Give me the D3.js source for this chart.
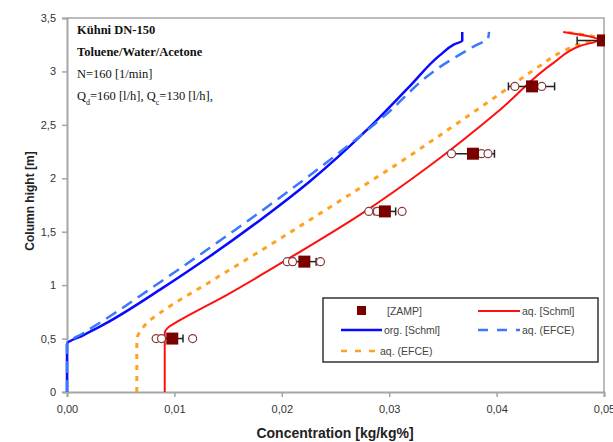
<!DOCTYPE html>
<html>
<head>
<meta charset="utf-8">
<script src="https://cdn.jsdelivr.net/npm/d3@7"></script>
<style>
  body { margin: 0; background: #fff; }
  svg { display: block; }
</style>
</head>
<body>
<svg id="chart" width="613" height="442"></svg>
<script>
// Column profiles: concentration (kg/kg%) vs column height (m)
const orgSchmC  = [0, 0, 0.0015, 0.0034, 0.0087, 0.0133, 0.018, 0.0226, 0.0279, 0.0319, 0.0347, 0.036, 0.0368, 0.0368];
const orgSchmH  = [0, 0.45, 0.53, 0.63, 0.96, 1.27, 1.61, 1.97, 2.45, 2.86, 3.15, 3.25, 3.29, 3.37];
const aqEfceBlueC = [0, 0, 0.0015, 0.0034, 0.0087, 0.0133, 0.0186, 0.0229, 0.0266, 0.0294, 0.0347, 0.0378, 0.0392, 0.0393];
const aqEfceBlueH = [0, 0.45, 0.55, 0.67, 1.03, 1.35, 1.73, 2.05, 2.34, 2.57, 3.04, 3.23, 3.31, 3.37];
const aqEfceC   = [0.0065, 0.0065, 0.0069, 0.0076, 0.0088, 0.0133, 0.018, 0.0226, 0.0273, 0.031, 0.0357, 0.0403, 0.044, 0.0464, 0.0482, 0.0497, 0.0462];
const aqEfceH   = [0, 0.49, 0.58, 0.66, 0.75, 1.03, 1.32, 1.61, 1.91, 2.15, 2.47, 2.79, 3.05, 3.2, 3.27, 3.30, 3.37];
const aqSchmC   = [0.0091, 0.0091, 0.0095, 0.0103, 0.0149, 0.0205, 0.0273, 0.0338, 0.0403, 0.0453, 0.0478, 0.0495, 0.0462];
const aqSchmH   = [0, 0.55, 0.61, 0.66, 0.91, 1.24, 1.66, 2.12, 2.64, 3.08, 3.24, 3.295, 3.37];

// ZAMP measurements (mean, error bar range, single samples)
const zampH    = [0.5, 1.22, 1.69, 2.23, 2.86, 3.29];
const zampC    = [0.0098, 0.0221, 0.0296, 0.0378, 0.0433, 0.0499];
const zampLo   = [0.0088, 0.0212, 0.0286, 0.0358, 0.0411, 0.0475];
const zampHi   = [0.0108, 0.0232, 0.0306, 0.0398, 0.0454, 0.0523];
const zampSamples = [
  [0.0083, 0.0088, 0.0117],
  [0.0205, 0.0210, 0.0236],
  [0.0281, 0.0289, 0.0312],
  [0.0358, 0.0386, 0.0392],
  [0.0417, 0.0442],
  []
];

const xTicks = [0, 0.01, 0.02, 0.03, 0.04, 0.05];
const yTicks = [0, 0.5, 1, 1.5, 2, 2.5, 3, 3.5];
const infoLines = ["Kühni DN-150", "Toluene/Water/Acetone", "N=160 [1/min]"];

const svg = d3.select("#chart");
const x = d3.scaleLinear().domain([0, 0.05]).range([67, 604]);
const y = d3.scaleLinear().domain([0, 3.5]).range([392, 18]);
const comma = v => v.toString().replace(".", ",");
const axisGray = "#a6a6a6";
const sans = "Liberation Sans, Arial, sans-serif";

// plot frame (top and right)
svg.append("path")
  .attr("d", `M${x(0)},${y(3.5)}H${x(0.05)}V${y(0)}`)
  .attr("fill", "none").attr("stroke", axisGray).attr("stroke-width", 1.5);

// axes
const xAxis = svg.append("g").attr("transform", `translate(0,${y(0)})`)
  .call(d3.axisBottom(x).tickValues(xTicks).tickSize(5).tickPadding(8)
    .tickFormat(d => d3.format(".2f")(d).replace(".", ",")));
const yAxis = svg.append("g").attr("transform", `translate(${x(0)},0)`)
  .call(d3.axisLeft(y).tickValues(yTicks).tickSize(5).tickPadding(6).tickFormat(comma));
[xAxis, yAxis].forEach(a => {
  a.select(".domain").attr("stroke", axisGray).attr("stroke-width", 2);
  a.selectAll(".tick line").attr("stroke", axisGray).attr("stroke-width", 1.5);
  a.selectAll(".tick text").attr("fill", "#333").style("font-family", sans).style("font-size", "11px");
});

// axis titles
svg.append("text").attr("x", 335).attr("y", 438).attr("text-anchor", "middle")
  .style("font-family", sans).style("font-size", "14px").style("font-weight", "bold")
  .attr("fill", "#222").text("Concentration [kg/kg%]");
svg.append("text").attr("transform", "translate(34,201) rotate(-90)").attr("text-anchor", "middle")
  .style("font-family", sans).style("font-size", "12px").style("font-weight", "bold")
  .attr("fill", "#222").text("Column hight [m]");

// lines
const line = d3.line().x(d => x(d[0])).y(d => y(d[1])).curve(d3.curveMonotoneY);
const zip = (a, b) => a.map((v, i) => [v, b[i]]);
const series = [
  { c: orgSchmC, h: orgSchmH, color: "#0a0aff", w: 2.5, dash: null },
  { c: aqEfceBlueC, h: aqEfceBlueH, color: "#3a78ff", w: 2.5, dash: "12,7" },
  { c: aqEfceC, h: aqEfceH, color: "#ffa21f", w: 3, dash: "5,6" },
  { c: aqSchmC, h: aqSchmH, color: "#ff1010", w: 2, dash: null }
];
series.forEach(s => {
  svg.append("path").datum(zip(s.c, s.h)).attr("d", line)
    .attr("fill", "none").attr("stroke", s.color).attr("stroke-width", s.w)
    .attr("stroke-dasharray", s.dash).attr("stroke-linejoin", "round");
});

// ZAMP markers
svg.append("clipPath").attr("id", "plotclip").append("rect")
  .attr("x", 0).attr("y", 0).attr("width", x(0.05) + 1).attr("height", 442);
const zg = svg.append("g").attr("clip-path", "url(#plotclip)");
zampH.forEach((h, i) => {
  const cy = y(h);
  zg.append("line").attr("x1", x(zampLo[i])).attr("x2", x(zampHi[i])).attr("y1", cy).attr("y2", cy)
    .attr("stroke", "#222").attr("stroke-width", 1.5);
  [zampLo[i], zampHi[i]].forEach(v => {
    zg.append("line").attr("x1", x(v)).attr("x2", x(v)).attr("y1", cy - 4).attr("y2", cy + 4)
      .attr("stroke", "#222").attr("stroke-width", 1.5);
  });
  zampSamples[i].forEach(v => {
    zg.append("circle").attr("cx", x(v)).attr("cy", cy).attr("r", 4)
      .attr("fill", "#fff").attr("stroke", "#8a3a3a").attr("stroke-width", 1.2);
  });
  zg.append("rect").attr("x", x(zampC[i]) - 6).attr("y", cy - 6).attr("width", 12).attr("height", 12)
    .attr("fill", "#7a0000");
});

// info text
const info = svg.append("g").style("font-family", "Liberation Serif, Times New Roman, serif").style("font-size", "12.5px").attr("fill", "#111");
infoLines.forEach((t, i) => {
  info.append("text").attr("x", 77).attr("y", 34 + i * 22).style("font-weight", i < 2 ? "bold" : "normal").text(t);
});
const q = info.append("text").attr("x", 77).attr("y", 100);
q.append("tspan").text("Q");
q.append("tspan").attr("baseline-shift", "sub").style("font-size", "8px").text("d");
q.append("tspan").text("=160 [l/h], Q");
q.append("tspan").attr("baseline-shift", "sub").style("font-size", "8px").text("c");
q.append("tspan").text("=130 [l/h],");

// legend
const lg = svg.append("g").style("font-family", sans).style("font-size", "10.5px").style("white-space", "pre");
lg.append("rect").attr("x", 323).attr("y", 298).attr("width", 275).attr("height", 64)
  .attr("fill", "#fff").attr("stroke", "#333").attr("stroke-width", 1.5);
lg.append("rect").attr("x", 357).attr("y", 306).attr("width", 9).attr("height", 9).attr("fill", "#7a0000");
const legendItems = [
  { x1: 478, x2: 520, y: 311, color: "#ff1010", dash: null, w: 2, label: "aq.  [Schml]" },
  { x1: 341, x2: 382, y: 330, color: "#0a0aff", dash: null, w: 2.5, label: "org.  [Schml]" },
  { x1: 478, x2: 520, y: 330, color: "#3a78ff", dash: "10,9", w: 2.5, label: "aq. (EFCE)" },
  { x1: 341, x2: 378, y: 351, color: "#ffa21f", dash: "6,8", w: 2.5, label: "aq. (EFCE)" }
];
legendItems.forEach(d => {
  lg.append("line").attr("x1", d.x1).attr("x2", d.x2).attr("y1", d.y).attr("y2", d.y)
    .attr("stroke", d.color).attr("stroke-width", d.w).attr("stroke-dasharray", d.dash);
  lg.append("text").attr("x", d.x2 + 2).attr("y", d.y + 4).attr("fill", "#444").text(d.label);
});
lg.append("text").attr("x", 387).attr("y", 315).attr("fill", "#444").text("[ZAMP]");
</script>
</body>
</html>
